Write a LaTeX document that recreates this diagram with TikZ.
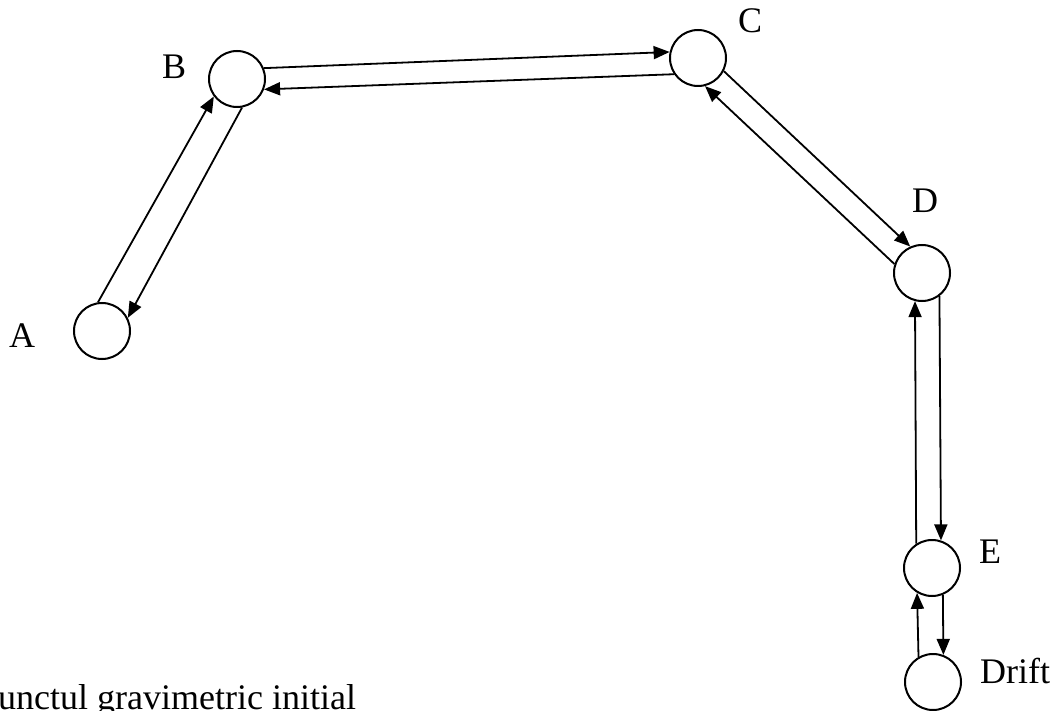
\documentclass[tikz,border=0pt]{standalone}
\usepackage{fontspec}
\setmainfont{Liberation Serif}
\usetikzlibrary{arrows.meta}
\begin{document}
\begin{tikzpicture}[x=1pt,y=-1pt,
  station/.style={circle,draw,line width=2pt,minimum size=56pt,inner sep=0pt},
  lbl/.style={anchor=base west,inner sep=0pt,font=\fontsize{36}{40}\selectfont},
  conn/.style={line width=1.8pt,-{Triangle[length=16pt,width=13pt]}}]
\clip (0,0) rectangle (1062,711);
\fill[white] (0,0) rectangle (1062,711);
\node[station] (A) at (102,331) {};
\node[station] (B) at (237,79) {};
\node[station] (C) at (698,58) {};
\node[station] (D) at (922,273) {};
\node[station] (E) at (932,568) {};
\node[station] (F) at (933,682) {};
\node[lbl] (lA) at (9,347) {A};
\node[lbl] (lB) at (162,79) {B};
\node[lbl] (lC) at (738,33) {C};
\node[lbl] (lD) at (912,213) {D};
\node[lbl] (lE) at (979,563) {E};
\node[lbl] (lF) at (980,683) {Drift};
\node[lbl] (txt) at (-2,709) {unctul gravimetric initial};
\draw[conn] (A.98) -- (B.217);
\draw[conn] (B.280) -- (A.27);
\draw[conn] (B.22) -- (C.168);
\draw[conn] (C.214) -- (B.339);
\draw[conn] (C.333) -- (D.114);
\draw[conn] (D.162) -- (C.284);
\draw[conn] (D.307) -- (E.72);
\draw[conn] (E.123) -- (D.256);
\draw[conn] (E.292) -- (F.69);
\draw[conn] (F.120) -- (E.239);
\end{tikzpicture}
\end{document}
